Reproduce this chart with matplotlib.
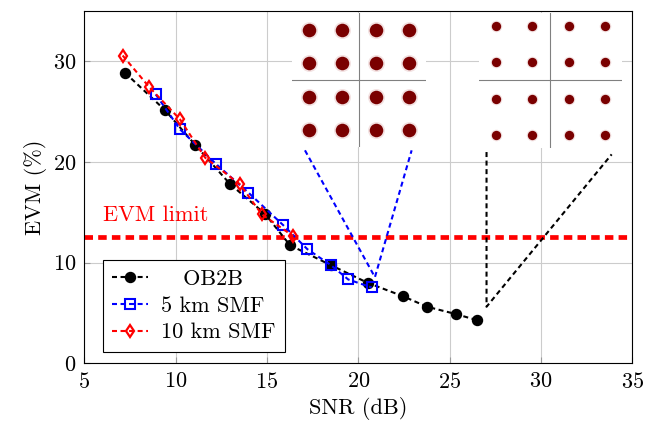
import numpy as np
import matplotlib
matplotlib.use('Agg')
import matplotlib.pyplot as plt

plt.rcParams['font.family'] = 'cmr10'
plt.rcParams['mathtext.fontset'] = 'cm'
plt.rcParams['axes.unicode_minus'] = False
plt.rcParams['axes.formatter.use_mathtext'] = True
plt.rcParams['font.size'] = 16

# measured curves (SNR in dB, EVM in %)
snr_b2b = [7.23, 9.43, 11.06, 12.97, 14.89, 16.26, 18.50, 20.51, 22.43, 23.77, 25.34, 26.48]
evm_b2b = [28.84, 25.11, 21.70, 17.81, 14.84, 11.72, 9.74, 7.99, 6.67, 5.61, 4.89, 4.29]
snr_5km = [8.91, 10.24, 12.19, 13.98, 15.89, 17.21, 18.50, 19.45, 20.73]
evm_5km = [26.69, 23.22, 19.82, 16.95, 13.71, 11.33, 9.74, 8.32, 7.53]
snr_10km = [7.10, 8.56, 10.24, 11.61, 13.52, 14.71, 16.44]
evm_10km = [30.55, 27.41, 24.21, 20.42, 17.77, 14.80, 12.62]
evm_limit = 12.5

labels = ['   OB2B', '5 km SMF', '10 km SMF']
x_ticks = [5, 10, 15, 20, 25, 30, 35]
y_ticks = [0, 10, 20, 30]

# 16-QAM constellation levels for the two insets
qam_levels = [-3, -1, 1, 3]

# pointer lines from the insets to the curves
ptr_5km_x = [17.08, 20.91, 22.92]
ptr_5km_y = [21.14, 8.55, 21.14]
ptr_b2b_x = [27.02, 27.02, 33.87]
ptr_b2b_y = [20.97, 5.61, 20.74]

W, H = 658, 425
fig = plt.figure(figsize=(W / 100, H / 100), dpi=100)
ax = fig.add_axes([84.3 / W, 1 - 363.3 / H, 548 / W, 352.6 / H])

lw = 1.5
dash = (0, (2.4, 1.7))
ax.plot(snr_b2b, evm_b2b, color='black', lw=lw, linestyle=dash, marker='o', ms=7.2,
        label=labels[0], zorder=3)
ax.plot(snr_5km, evm_5km, color='#0000ff', lw=lw, linestyle=dash, marker='s', ms=7,
        mfc='none', mew=1.5, label=labels[1], zorder=4)
ax.plot(snr_10km, evm_10km, color='#ff0000', lw=lw, linestyle=dash, marker='d', ms=6,
        mfc='none', mew=1.6, label=labels[2], zorder=5)

ax.axhline(evm_limit, color='#ff0000', lw=3.4, linestyle=(0, (1.8, 1.1)), zorder=2)
ax.text(6.0, 14.1, 'EVM limit', color='#ff0000', va='baseline', ha='left')

ax.plot(ptr_5km_x, ptr_5km_y, color='#0000ff', lw=lw, linestyle=dash, zorder=3)
ax.plot(ptr_b2b_x, ptr_b2b_y, color='black', lw=lw, linestyle=dash, zorder=3)

ax.set_xlim(5, 35)
ax.set_ylim(0, 35)
ax.set_xticks(x_ticks)
ax.set_yticks(y_ticks)
ax.grid(color='#cccccc', lw=0.8)
ax.set_axisbelow(True)
ax.tick_params(direction='in', length=4, color='#999999', pad=6)
for s in ax.spines.values():
    s.set_linewidth(0.8)
ax.set_xlabel('SNR (dB)', labelpad=4)
ax.set_ylabel('EVM (%)', labelpad=4)

leg = ax.legend(loc='lower left', bbox_to_anchor=(0.0336, 0.033), fancybox=False,
                edgecolor='black', framealpha=1, handlelength=1.6, handletextpad=0.6,
                labelspacing=0.32, borderpad=0.42, borderaxespad=0)
leg.get_frame().set_linewidth(0.8)

# constellation insets
qx, qy = np.meshgrid(qam_levels, qam_levels)
insets = [
    ([16.37, 21.47, 7.35, 13.28], 4.0, 4.0, 150, 95),
    ([26.60, 21.34, 7.83, 13.48], 3.93, 3.74, 70, 45),
]
for bounds, xl, yl, halo_s, core_s in insets:
    ins = ax.inset_axes(bounds, transform=ax.transData)
    ins.set_facecolor('white')
    ins.set_xlim(-xl, xl)
    ins.set_ylim(-yl, yl)
    ins.set_xticks([])
    ins.set_yticks([])
    for s in ins.spines.values():
        s.set_visible(False)
    ins.axhline(0, color='#808080', lw=0.8)
    ins.axvline(0, color='#808080', lw=0.8)
    ins.scatter(qx.ravel(), qy.ravel(), s=halo_s, color='#c06060', alpha=0.18, lw=0)
    ins.scatter(qx.ravel(), qy.ravel(), s=core_s, color='#7a0000', lw=0)

fig.savefig('out.png', dpi=100)
